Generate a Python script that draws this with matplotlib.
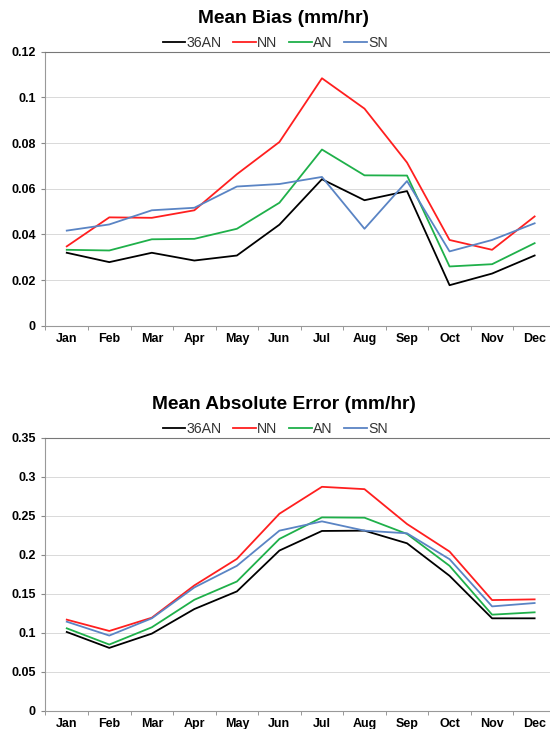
import numpy as np
from matplotlib import pyplot as plt

months = ['Jan', 'Feb', 'Mar', 'Apr', 'May', 'Jun',
          'Jul', 'Aug', 'Sep', 'Oct', 'Nov', 'Dec']
labels = ['36AN', 'NN', 'AN', 'SN']

bias_36an = [0.032, 0.0279, 0.032, 0.0286, 0.0308, 0.0443, 0.0642, 0.055, 0.059, 0.0178, 0.0229, 0.0308]
bias_nn = [0.0348, 0.0475, 0.0473, 0.0506, 0.0664, 0.0805, 0.1084, 0.0951, 0.0715, 0.0376, 0.0333, 0.0479]
bias_an = [0.0333, 0.033, 0.0379, 0.0381, 0.0425, 0.0539, 0.0772, 0.0659, 0.0658, 0.026, 0.027, 0.0362]
bias_sn = [0.0417, 0.0444, 0.0506, 0.0517, 0.061, 0.0621, 0.0652, 0.0425, 0.0634, 0.0326, 0.0376, 0.0449]

mae_36an = [0.1013, 0.0809, 0.0992, 0.1307, 0.1533, 0.2057, 0.2308, 0.2312, 0.215, 0.1733, 0.1188, 0.1188]
mae_nn = [0.1171, 0.1026, 0.1196, 0.161, 0.195, 0.2529, 0.2874, 0.2844, 0.2397, 0.2044, 0.1422, 0.1431]
mae_an = [0.106, 0.0852, 0.1073, 0.1426, 0.166, 0.2206, 0.2482, 0.2478, 0.227, 0.1861, 0.1235, 0.1265]
mae_sn = [0.1145, 0.0967, 0.1188, 0.1584, 0.1861, 0.2312, 0.2431, 0.2312, 0.2278, 0.1946, 0.1341, 0.1384]

colors = ['#000000', '#ff1f1f', '#1fb04a', '#5a84c4']

plt.rcParams['font.family'] = ['Liberation Sans', 'DejaVu Sans']


def panel(ax, series, ymax, ystep, title):
    x = np.arange(len(months))
    for vals, lab, c in zip(series, labels, colors):
        ax.plot(x, vals, color=c, linewidth=1.3, label=lab)

    ax.set_xlim(-0.5, len(months) - 0.5)
    ax.set_ylim(0, ymax)
    yt = np.arange(0, ymax + ystep / 2, ystep)
    ax.set_yticks(yt)
    ax.set_yticklabels(['%g' % round(v, 3) for v in yt], fontweight='bold', fontsize=9)
    ax.set_xticks(x)
    ax.set_xticklabels(months, fontweight='bold', fontsize=9)
    ax.set_xticks(np.arange(-0.5, len(months)), minor=True)
    ax.tick_params(axis='x', which='major', length=0, pad=5)
    ax.tick_params(axis='x', which='minor', length=3, color='#888888')
    ax.tick_params(axis='y', length=3, color='#888888', pad=4)

    ax.grid(axis='y', color='#d9d9d9', linewidth=0.7)
    ax.set_axisbelow(True)
    ax.spines['right'].set_visible(False)
    ax.spines['top'].set_color('#777777')
    ax.spines['left'].set_color('#999999')
    ax.spines['bottom'].set_color('#999999')

    ax.set_title(title, fontweight='bold', fontsize=13.8, x=0.467, pad=21)
    ax.legend(loc='lower center', bbox_to_anchor=(0.45, 1.0), ncol=4, frameon=False,
              fontsize=10.2, handlelength=1.6, handletextpad=0.1, columnspacing=0.8,
              borderaxespad=0.0, borderpad=0.15, labelcolor='#333333')


fig = plt.figure(figsize=(5.5, 7.29), dpi=100)
ax1 = fig.add_axes([0.0827, 0.553, 0.928, 0.376])
ax2 = fig.add_axes([0.0827, 0.0247, 0.928, 0.3745])

panel(ax1, [bias_36an, bias_nn, bias_an, bias_sn], 0.12, 0.02, 'Mean Bias (mm/hr)')
panel(ax2, [mae_36an, mae_nn, mae_an, mae_sn], 0.35, 0.05, 'Mean Absolute Error (mm/hr)')

plt.savefig('out.png', dpi=100)
